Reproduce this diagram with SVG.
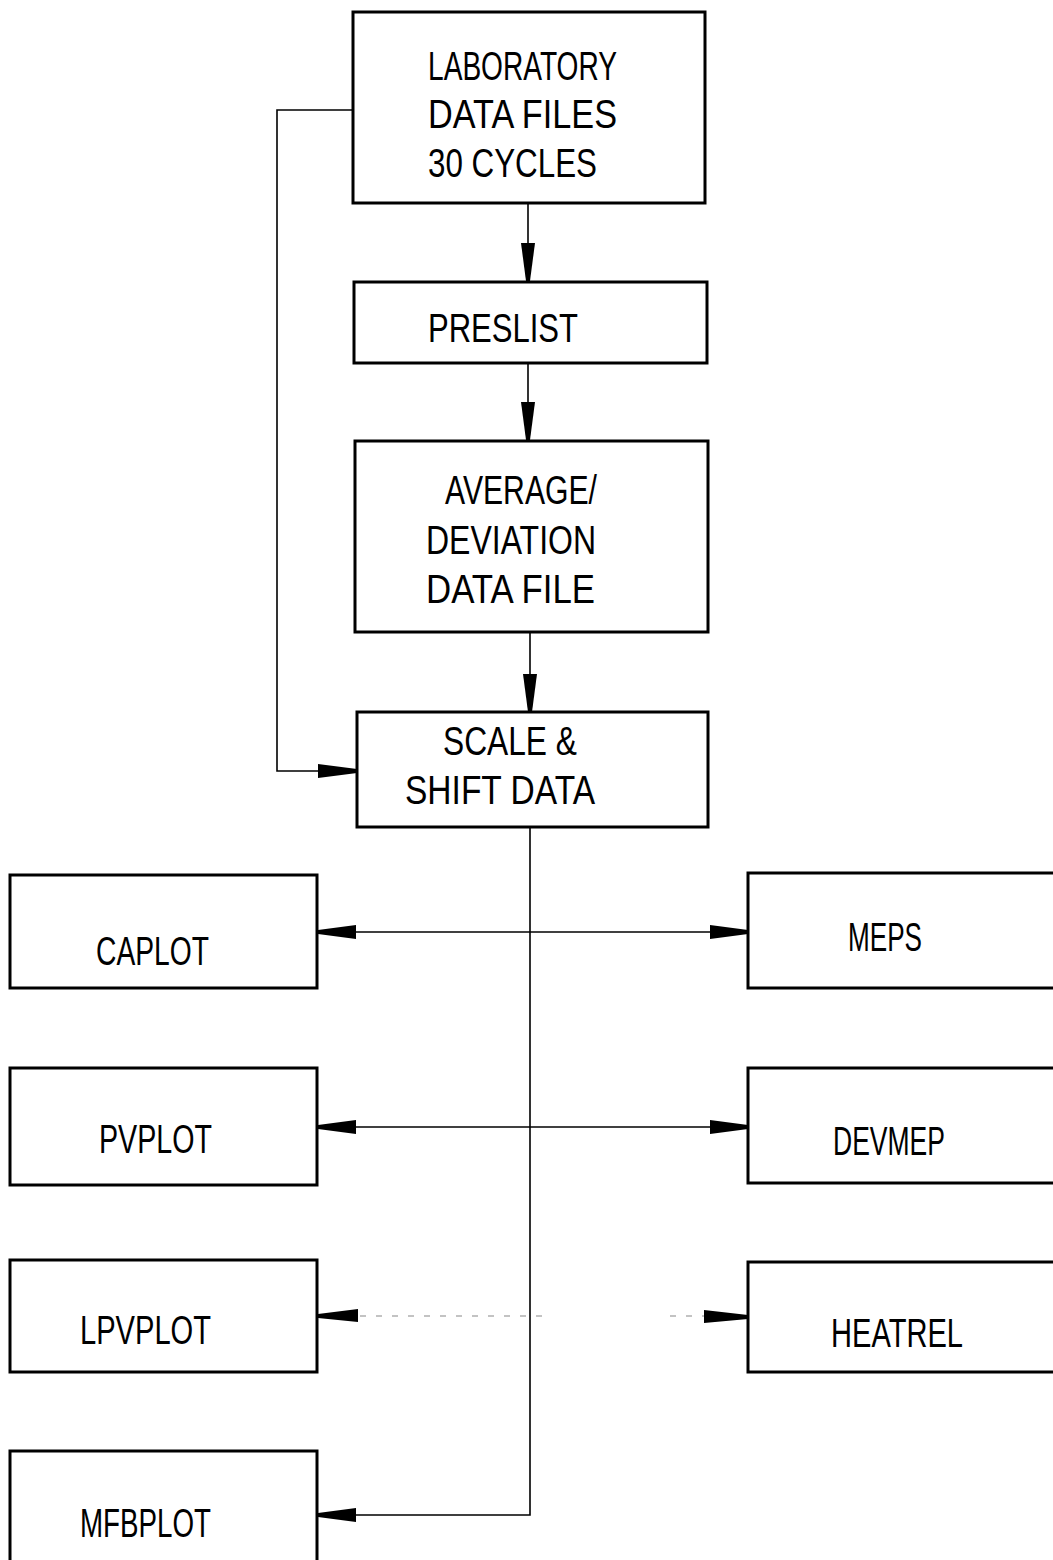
<svg xmlns="http://www.w3.org/2000/svg" width="1053" height="1560" viewBox="0 0 1053 1560">
  <style>
    .box { fill: #fff; stroke: #000; stroke-width: 3; }
    .lbl { font-family: "Liberation Sans", Arial, sans-serif; font-size: 41px; fill: #000; }
    .wire { fill: none; stroke: #000; stroke-width: 1.6; }
    .faint { fill: none; stroke: #888; stroke-width: 1.2; stroke-dasharray: 6 10; }
    .head { fill: #000; }
  </style>
  <rect width="1053" height="1560" fill="#fff"/>

  <!-- connectors -->
  <g id="connectors">
    <!-- feedback from lab files into scale & shift -->
    <polyline class="wire" points="353,110 277,110 277,771 320,771"/>
    <polygon class="head" points="357,769 357,773 318,778 318,764"/>
    <!-- main vertical trunk -->
    <line class="wire" x1="528" y1="203" x2="528" y2="245"/>
    <polygon class="head" points="526,281 530,281 535,243 521,243"/>
    <line class="wire" x1="528" y1="363" x2="528" y2="404"/>
    <polygon class="head" points="526,440 530,440 535,402 521,402"/>
    <line class="wire" x1="530" y1="633" x2="530" y2="676"/>
    <polygon class="head" points="528,712 532,712 537,674 523,674"/>
    <polyline class="wire" points="530,827 530,1515 353,1515"/>
    <polygon class="head" points="318,1513 318,1517 356,1522 356,1508"/>
    <!-- CAPLOT / MEPS -->
    <line class="wire" x1="353" y1="932" x2="712" y2="932"/>
    <polygon class="head" points="318,930 318,934 356,939 356,925"/>
    <polygon class="head" points="748,930 748,934 710,939 710,925"/>
    <!-- PVPLOT / DEVMEP -->
    <line class="wire" x1="353" y1="1127" x2="712" y2="1127"/>
    <polygon class="head" points="318,1125 318,1129 356,1134 356,1120"/>
    <polygon class="head" points="748,1125 748,1129 710,1134 710,1120"/>
    <!-- LPVPLOT / HEATREL (faint) -->
    <line class="faint" x1="360" y1="1316" x2="545" y2="1316"/>
    <line class="faint" x1="670" y1="1316" x2="708" y2="1316"/>
    <polygon class="head" points="318,1314 318,1318 358,1322 358,1309"/>
    <polygon class="head" points="748,1315 748,1319 704,1323 704,1310"/>
  </g>

  <g id="lab-files">
    <rect class="box" x="353" y="12" width="352" height="191"/>
    <text class="lbl" x="428" y="80" textLength="189" lengthAdjust="spacingAndGlyphs">LABORATORY</text>
    <text class="lbl" x="428" y="128" textLength="189" lengthAdjust="spacingAndGlyphs">DATA FILES</text>
    <text class="lbl" x="428" y="177" textLength="169" lengthAdjust="spacingAndGlyphs">30 CYCLES</text>
  </g>

  <g id="preslist">
    <rect class="box" x="354" y="282" width="353" height="81"/>
    <text class="lbl" x="428" y="342" textLength="150" lengthAdjust="spacingAndGlyphs">PRESLIST</text>
  </g>

  <g id="average-deviation">
    <rect class="box" x="355" y="441" width="353" height="191"/>
    <text class="lbl" x="445" y="504" textLength="152" lengthAdjust="spacingAndGlyphs">AVERAGE/</text>
    <text class="lbl" x="426" y="554" textLength="170" lengthAdjust="spacingAndGlyphs">DEVIATION</text>
    <text class="lbl" x="426" y="603" textLength="169" lengthAdjust="spacingAndGlyphs">DATA FILE</text>
  </g>

  <g id="scale-shift">
    <rect class="box" x="357" y="712" width="351" height="115"/>
    <text class="lbl" x="443" y="755" textLength="134" lengthAdjust="spacingAndGlyphs">SCALE &amp;</text>
    <text class="lbl" x="405" y="804" textLength="190" lengthAdjust="spacingAndGlyphs">SHIFT DATA</text>
  </g>

  <g id="caplot">
    <rect class="box" x="10" y="875" width="307" height="113"/>
    <text class="lbl" x="96" y="965" textLength="113" lengthAdjust="spacingAndGlyphs">CAPLOT</text>
  </g>

  <g id="pvplot">
    <rect class="box" x="10" y="1068" width="307" height="117"/>
    <text class="lbl" x="99" y="1153" textLength="113" lengthAdjust="spacingAndGlyphs">PVPLOT</text>
  </g>

  <g id="lpvplot">
    <rect class="box" x="10" y="1260" width="307" height="112"/>
    <text class="lbl" x="80" y="1344" textLength="131" lengthAdjust="spacingAndGlyphs">LPVPLOT</text>
  </g>

  <g id="mfbplot">
    <rect class="box" x="10" y="1451" width="307" height="130"/>
    <text class="lbl" x="80" y="1537" textLength="131" lengthAdjust="spacingAndGlyphs">MFBPLOT</text>
  </g>

  <g id="meps">
    <rect class="box" x="748" y="873" width="330" height="115"/>
    <text class="lbl" x="848" y="951" textLength="74" lengthAdjust="spacingAndGlyphs">MEPS</text>
  </g>

  <g id="devmep">
    <rect class="box" x="748" y="1068" width="330" height="115"/>
    <text class="lbl" x="833" y="1155" textLength="112" lengthAdjust="spacingAndGlyphs">DEVMEP</text>
  </g>

  <g id="heatrel">
    <rect class="box" x="748" y="1262" width="330" height="110"/>
    <text class="lbl" x="831" y="1347" textLength="132" lengthAdjust="spacingAndGlyphs">HEATREL</text>
  </g>
</svg>
